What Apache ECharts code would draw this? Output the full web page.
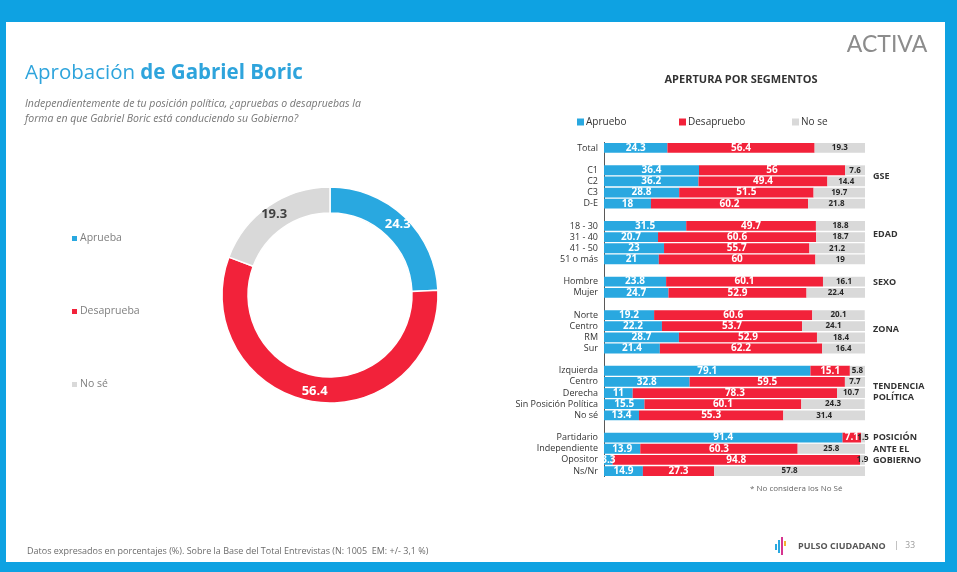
<!DOCTYPE html>
<html>
<head>
<meta charset="utf-8">
<script src="https://cdn.jsdelivr.net/npm/echarts@6/dist/echarts.min.js"></script>
<style>
html,body{margin:0;padding:0;background:#0EA2E2;}
#main{width:957px;height:572px;}
</style>
</head>
<body>
<div id="main"></div>
<script>
// ---- Data ----
const pieNames = ['Aprueba', 'Desaprueba', 'No sé'];
const pieValues = [24.3, 56.4, 19.3];

const seriesNames = ['Apruebo', 'Desapruebo', 'No se'];
const categories = ['Total', '', 'C1', 'C2', 'C3', 'D-E', '', '18 - 30', '31 - 40', '41 - 50', '51 o más', '',
  'Hombre', 'Mujer', '', 'Norte', 'Centro', 'RM', 'Sur', '',
  'Izquierda', 'Centro', 'Derecha', 'Sin Posición Política', 'No sé', '',
  'Partidario', 'Independiente', 'Opositor', 'Ns/Nr'];
const apruebo = [24.3, null, 36.4, 36.2, 28.8, 18, null, 31.5, 20.7, 23, 21, null,
  23.8, 24.7, null, 19.2, 22.2, 28.7, 21.4, null,
  79.1, 32.8, 11, 15.5, 13.4, null,
  91.4, 13.9, 3.3, 14.9];
const desapruebo = [56.4, null, 56, 49.4, 51.5, 60.2, null, 49.7, 60.6, 55.7, 60, null,
  60.1, 52.9, null, 60.6, 53.7, 52.9, 62.2, null,
  15.1, 59.5, 78.3, 60.1, 55.3, null,
  7.1, 60.3, 94.8, 27.3];
const noSe = [19.3, null, 7.6, 14.4, 19.7, 21.8, null, 18.8, 18.7, 21.2, 19, null,
  16.1, 22.4, null, 20.1, 24.1, 18.4, 16.4, null,
  5.8, 7.7, 10.7, 24.3, 31.4, null,
  1.5, 25.8, 1.9, 57.8];
const groupLabels = [
  { text: 'GSE', y: 176 },
  { text: 'EDAD', y: 234 },
  { text: 'SEXO', y: 282 },
  { text: 'ZONA', y: 329 },
  { text: 'TENDENCIA\nPOLÍTICA', y: 392 },
  { text: 'POSICIÓN\nANTE EL\nGOBIERNO', y: 449 }
];

// ---- Styles ----
const BLUE = '#29A8E0', RED = '#F2223A', GREY = '#D9D9D9';
const FONT = '"Liberation Sans Narrow", "Open Sans", sans-serif';
const colors = [BLUE, RED, GREY];

const chart = echarts.init(document.getElementById('main'), null, { renderer: 'canvas' });

function barSeries(name, data, idx) {
  const grey = idx === 2;
  return {
    name: name,
    type: 'bar',
    stack: 'seg',
    data: data,
    barWidth: '88%',
    itemStyle: { color: colors[idx] },
    label: {
      show: true,
      position: 'inside',
      formatter: p => (p.value == null ? '' : String(p.value)),
      color: grey ? '#262626' : '#fff',
      fontWeight: 'bold',
      fontSize: grey ? 8 : 10,
      fontFamily: FONT
    },
    emphasis: { disabled: true },
    xAxisIndex: 0, yAxisIndex: 0
  };
}

const graphics = [
  { type: 'rect', z: -10, shape: { x: 6, y: 22, width: 939, height: 540 }, style: { fill: '#fff' }, silent: true },
  { type: 'text', left: 25, top: 63, style: {
      text: '{a|Aprobación }{b|de Gabriel Boric}',
      rich: {
        a: { fontSize: 20.5, fill: '#2EA4DC', fontFamily: '"Open Sans", sans-serif' },
        b: { fontSize: 20.5, fill: '#2EA4DC', fontWeight: 'bold', fontFamily: '"Open Sans", sans-serif' }
      }
  } },
  { type: 'text', left: 25, top: 97, style: {
      text: 'Independientemente de tu posición política, ¿apruebas o desapruebas la\nforma en que Gabriel Boric está conduciendo su Gobierno?',
      fontSize: 10.5, fontStyle: 'italic', fill: '#767676', lineHeight: 15, fontFamily: '"Open Sans", sans-serif'
  } },
  { type: 'text', x: 741, y: 80, style: {
      text: 'APERTURA POR SEGMENTOS', fontSize: 11, fontWeight: 'bold', fill: '#333',
      align: 'center', verticalAlign: 'middle', fontFamily: FONT
  } },
  { type: 'text', x: 750, y: 489, style: {
      text: '* No considera los No Sé', fontSize: 8, fill: '#666', verticalAlign: 'middle', fontFamily: FONT
  } },
  { type: 'text', x: 27, y: 551, style: {
      text: 'Datos expresados en porcentajes (%). Sobre la Base del Total Entrevistas (N: 1005  EM: +/- 3,1 %)',
      fontSize: 9, fill: '#6b6b6b', verticalAlign: 'middle', fontFamily: FONT
  } },
  { type: 'text', x: 887, y: 45, style: {
      text: 'ACTIVA', fontSize: 23, fill: '#8c8c8c', align: 'center', verticalAlign: 'middle',
      fontFamily: 'Lato, sans-serif', fontWeight: 'normal'
  } },
  // Pulso Ciudadano logo
  { type: 'rect', shape: { x: 775, y: 544, width: 2, height: 6 }, style: { fill: '#29A8E0' } },
  { type: 'rect', shape: { x: 778, y: 540, width: 2, height: 13 }, style: { fill: '#29A8E0' } },
  { type: 'rect', shape: { x: 781, y: 537, width: 2, height: 18 }, style: { fill: '#D6338F' } },
  { type: 'rect', shape: { x: 784, y: 541, width: 2, height: 5 }, style: { fill: '#F2B233' } },
  { type: 'text', x: 798, y: 546, style: {
      text: 'PULSO CIUDADANO', fontSize: 9, fontWeight: 'bold', fill: '#555', verticalAlign: 'middle',
      fontFamily: '"Open Sans", sans-serif'
  } },
  { type: 'text', x: 894, y: 546, style: {
      text: '|   33', fontSize: 8.5, fill: '#999', verticalAlign: 'middle', fontFamily: FONT
  } }
];
groupLabels.forEach(g => {
  graphics.push({ type: 'text', x: 873, y: g.y, style: {
    text: g.text, fontSize: 9, fontWeight: 'bold', fill: '#333', verticalAlign: 'middle',
    lineHeight: 11.5, fontFamily: FONT
  } });
});

function legendAt(name, left, top, fontSize, color) {
  return {
    data: [name], left: left, top: top, orient: 'horizontal', padding: 0,
    icon: 'rect', itemWidth: 7, itemHeight: 7, itemGap: 0,
    textStyle: { fontSize: fontSize, color: color, fontFamily: FONT, padding: [0, 0, 0, -3] },
    selectedMode: false
  };
}

const option = {
  backgroundColor: '#0EA2E2',
  animation: false,
  color: colors,
  textStyle: { fontFamily: FONT },
  legend: [
    legendAt('Aprueba', 70, 233, 10.5, '#7f7f7f'),
    legendAt('Desaprueba', 70, 306, 10.5, '#7f7f7f'),
    legendAt('No sé', 70, 379, 10.5, '#7f7f7f'),
    legendAt('Apruebo', 577, 117, 10, '#333'),
    legendAt('Desapruebo', 679, 117, 10, '#333'),
    legendAt('No se', 792, 117, 10, '#333')
  ],
  grid: { left: 604, top: 142.4, width: 261, height: 334.2, containLabel: false },
  xAxis: { type: 'value', min: 0, max: 100, show: false },
  yAxis: {
    type: 'category', data: categories, inverse: true,
    axisLine: { show: true, lineStyle: { color: '#595959', width: 1 } },
    axisTick: { show: false },
    axisLabel: { fontSize: 9, color: '#333', margin: 6, fontFamily: FONT, interval: 0 },
    splitLine: { show: false }
  },
  series: [
    barSeries(seriesNames[0], apruebo, 0),
    barSeries(seriesNames[1], desapruebo, 1),
    barSeries(seriesNames[2], noSe, 2),
    {
      type: 'pie',
      center: [330, 295],
      radius: [82, 108],
      startAngle: 90,
      clockwise: true,
      avoidLabelOverlap: false,
      itemStyle: { borderColor: '#fff', borderWidth: 1.5 },
      emphasis: { disabled: true },
      label: {
        show: true, position: 'inside', formatter: '{c}',
        fontSize: 13, fontWeight: 'bold', fontFamily: '"Open Sans", sans-serif'
      },
      labelLine: { show: false },
      data: pieNames.map((n, i) => ({
        name: n, value: pieValues[i],
        itemStyle: { color: colors[i] },
        label: { color: i === 2 ? '#404040' : '#fff' }
      }))
    }
  ],
  graphic: graphics
};
chart.setOption(option);
</script>
</body>
</html>
